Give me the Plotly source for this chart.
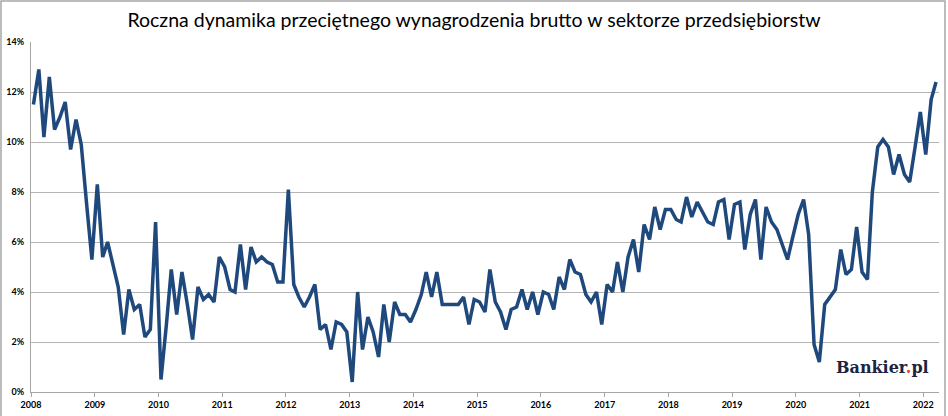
import pandas as pd
import plotly.graph_objects as go

# y/y growth of average gross wage in the enterprise sector, % (monthly)
y2008 = [11.5, 12.9, 10.2, 12.6, 10.5, 11.0, 11.6, 9.7, 10.9, 9.9, 7.5, 5.3]
y2009 = [8.3, 5.4, 6.0, 5.1, 4.2, 2.3, 4.1, 3.3, 3.5, 2.2, 2.5, 6.8]
y2010 = [0.5, 2.7, 4.9, 3.1, 4.8, 3.5, 2.1, 4.2, 3.7, 3.9, 3.6, 5.4]
y2011 = [5.0, 4.1, 4.0, 5.9, 4.1, 5.8, 5.2, 5.4, 5.2, 5.1, 4.4, 4.4]
y2012 = [8.1, 4.3, 3.8, 3.4, 3.8, 4.3, 2.5, 2.7, 1.7, 2.8, 2.7, 2.4]
y2013 = [0.4, 4.0, 1.7, 3.0, 2.4, 1.4, 3.5, 2.0, 3.6, 3.1, 3.1, 2.8]
y2014 = [3.3, 3.9, 4.8, 3.8, 4.8, 3.5, 3.5, 3.5, 3.5, 3.8, 2.7, 3.7]
y2015 = [3.6, 3.2, 4.9, 3.6, 3.2, 2.5, 3.3, 3.4, 4.1, 3.3, 4.0, 3.1]
y2016 = [4.0, 3.9, 3.3, 4.6, 4.1, 5.3, 4.8, 4.7, 3.9, 3.6, 4.0, 2.7]
y2017 = [4.3, 4.0, 5.2, 4.0, 5.4, 6.1, 4.8, 6.7, 6.1, 7.4, 6.5, 7.3]
y2018 = [7.3, 6.9, 6.8, 7.8, 7.0, 7.6, 7.2, 6.8, 6.7, 7.6, 7.7, 6.1]
y2019 = [7.5, 7.6, 5.7, 7.1, 7.7, 5.3, 7.4, 6.8, 6.5, 5.9, 5.3, 6.2]
y2020 = [7.1, 7.7, 6.3, 1.9, 1.2, 3.5, 3.8, 4.1, 5.7, 4.7, 4.9, 6.6]
y2021 = [4.8, 4.5, 8.0, 9.8, 10.1, 9.8, 8.7, 9.5, 8.7, 8.4, 9.8, 11.2]
y2022 = [9.5, 11.7, 12.4]

values = (y2008 + y2009 + y2010 + y2011 + y2012 + y2013 + y2014 + y2015
          + y2016 + y2017 + y2018 + y2019 + y2020 + y2021 + y2022)
months = pd.date_range("2008-01-01", periods=len(values), freq="MS") + pd.Timedelta(days=14)

years = list(range(2008, 2023))
y_ticks = [0, 2, 4, 6, 8, 10, 12, 14]

title = "Roczna dynamika przeciętnego wynagrodzenia brutto w sektorze przedsiębiorstw"

fig = go.Figure()
fig.add_trace(go.Scatter(
    x=months, y=[v / 100 for v in values], mode="lines",
    line=dict(color="#1F497D", width=3.5), hoverinfo="x+y",
    cliponaxis=False,
))

fig.update_layout(
    width=948, height=416,
    margin=dict(l=31, r=9, t=42, b=24),
    paper_bgcolor="white", plot_bgcolor="white",
    showlegend=False,
    title=dict(text=title, x=0.5, xanchor="center", y=0.952, yanchor="middle",
               font=dict(family="Lato", size=19.5, color="black")),
    font=dict(family="Lato", color="black"),
)

fig.update_xaxes(
    range=["2008-01-01", "2022-04-01"],
    tickvals=[f"{y}-01-01" for y in years],
    ticktext=[f"<b>{y}</b>" for y in years],
    tickfont=dict(size=9, color="black"),
    showgrid=False, showline=True, linecolor="#a6a6a6", linewidth=1,
    ticks="outside", ticklen=4, tickcolor="#a6a6a6",
    automargin=False,
)
fig.update_yaxes(
    range=[0, 0.14],
    tickvals=[v / 100 for v in y_ticks],
    ticktext=[f"<b>{v}%</b>" for v in y_ticks],
    tickfont=dict(size=9, color="black"),
    showgrid=True, gridcolor="#b4b4b4", gridwidth=1,
    showline=True, linecolor="#a6a6a6", linewidth=1,
    zeroline=False, ticks="", ticklabelstandoff=4,
    automargin=False,
)

# outer chart border like the Excel chart area
fig.add_shape(type="rect", xref="paper", yref="paper",
              x0=-30 / 908, x1=1 + 6 / 908, y0=-30 / 350, y1=1 + 41 / 350,
              line=dict(color="#a6a6a6", width=1.5))

fig.add_annotation(
    text="<b>Bankier<span style='color:#e8412c'>.</span>pl</b>",
    xref="paper", yref="paper", x=0.991, y=0.069, xanchor="right", yanchor="middle",
    showarrow=False, font=dict(family="DejaVu Serif", size=16, color="#1b2440"),
)

# drop the browser's default body margin so the chart sits at the page corner
fig.write_html("out.html", config={"displayModeBar": False},
               post_script="document.body.style.margin='0';")
